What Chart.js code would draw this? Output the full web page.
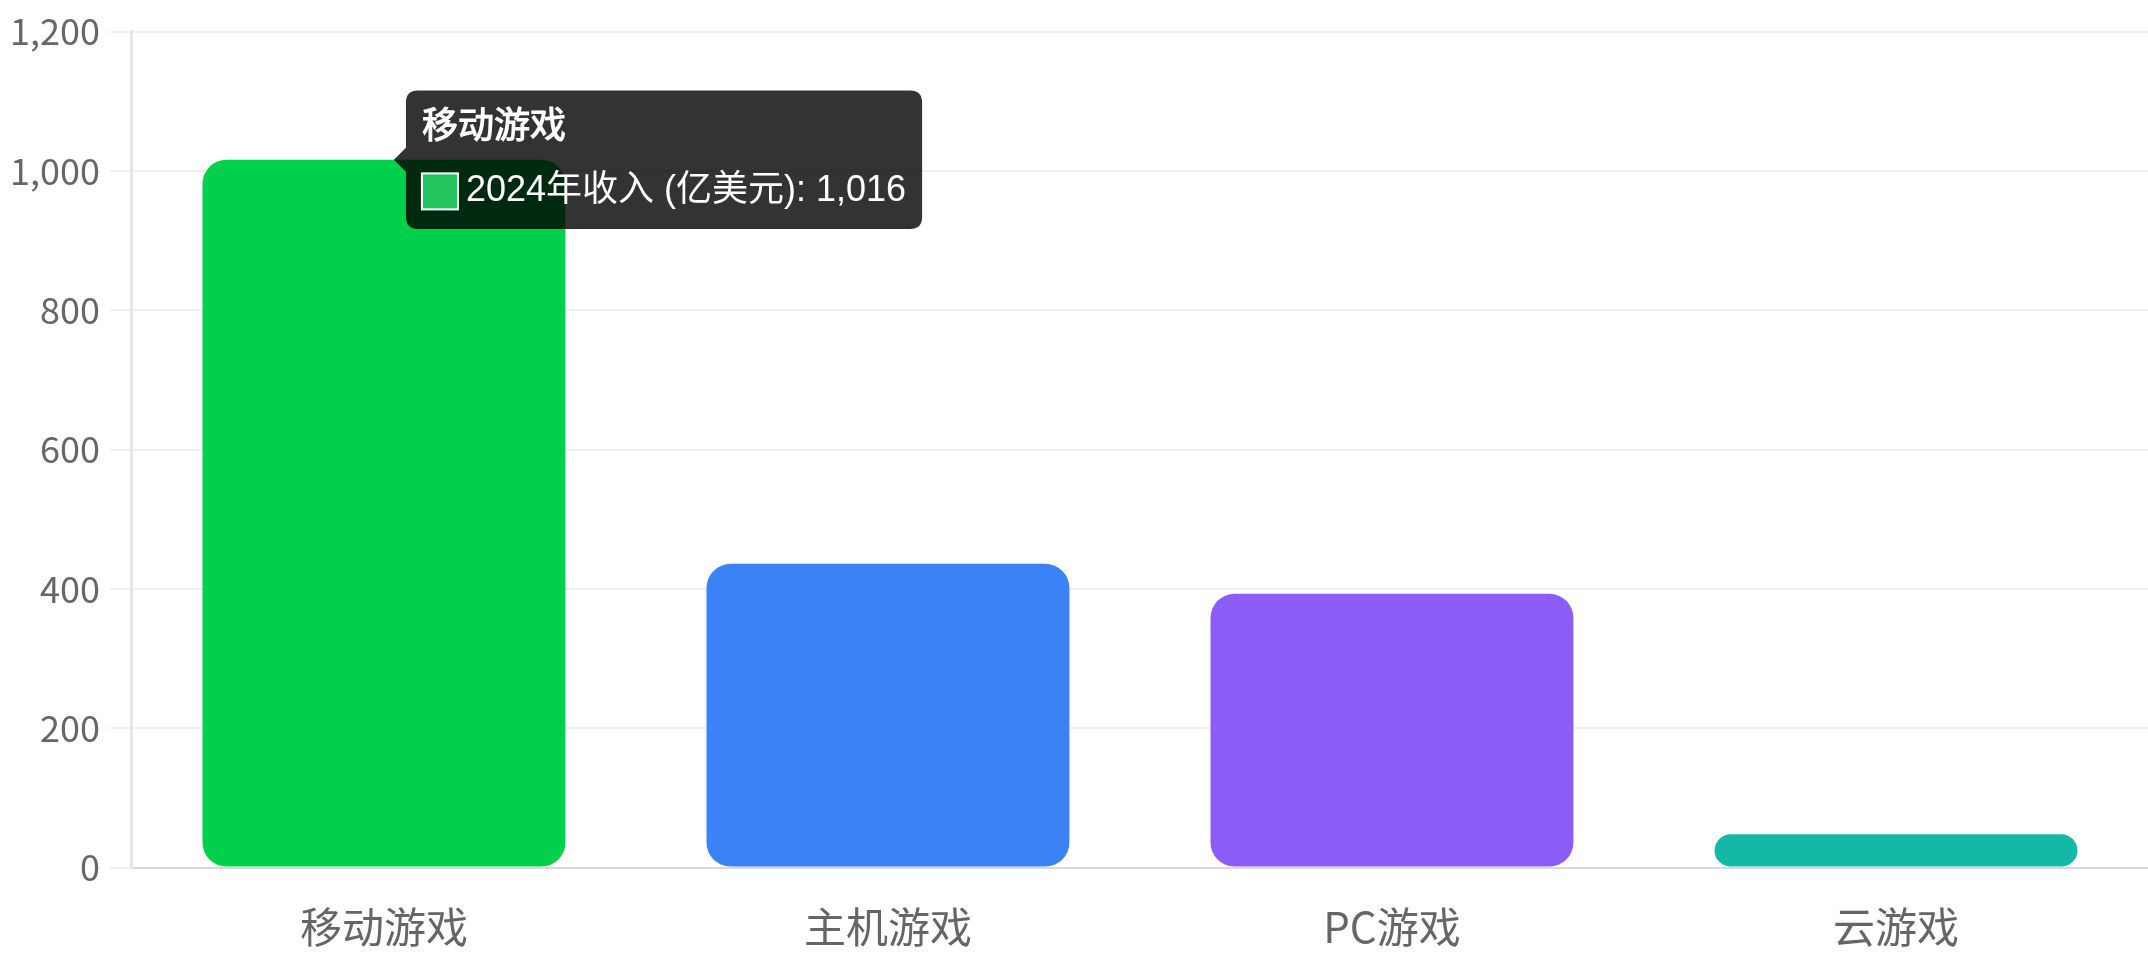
<!DOCTYPE html>
<html lang="zh-CN">
<head>
<meta charset="UTF-8">
<title>2024年游戏收入</title>
<script src="https://cdn.jsdelivr.net/npm/chart.js@4.4.1/dist/chart.umd.min.js"></script>
<style>
  html, body { margin: 0; padding: 0; background: #ffffff; }
  #wrap { position: relative; width: 2148px; height: 960px; }
</style>
</head>
<body>
<div id="wrap"><canvas id="revenueChart"></canvas></div>
<script>
// Dữ liệu biểu đồ
const categories = ["移动游戏", "主机游戏", "PC游戏", "云游戏"];
const revenue2024 = [1016, 436, 393, 48];
const seriesLabel = "2024年收入 (亿美元)";
const barColors = ["#22c55e", "#3b82f6", "#8b5cf6", "#14b8a6"];
const yTicks = [0, 200, 400, 600, 800, 1000, 1200];

const tickFont = "'Noto Sans CJK SC', 'Noto Sans', sans-serif";

const ctx = document.getElementById("revenueChart");
const chart = new Chart(ctx, {
  type: "bar",
  data: {
    labels: categories,
    datasets: [{
      label: seriesLabel,
      data: revenue2024,
      backgroundColor: barColors,
      borderRadius: 24,
      borderSkipped: false
    }]
  },
  options: {
    responsive: true,
    maintainAspectRatio: false,
    animation: false,
    layout: { padding: { top: 8, left: 0, bottom: -26, right: 0 } },
    plugins: {
      legend: { display: false },
      tooltip: {
        backgroundColor: "rgba(0,0,0,0.8)",
        titleFont: { size: 36, weight: "bold" },
        bodyFont: { size: 36 },
        padding: 16,
        titleMarginBottom: 20,
        cornerRadius: 12,
        caretSize: 12,
        caretPadding: 10,
        boxPadding: 6,
        xAlign: "left",
        yAlign: "center",
        callbacks: {
          // ô màu có viền trắng như ảnh gốc
          labelColor: (item) => ({
            borderColor: "#ffffff",
            backgroundColor: barColors[item.dataIndex],
            borderWidth: 2,
            borderRadius: 0
          })
        }
      }
    },
    scales: {
      x: {
        grid: { display: false, drawTicks: false },
        border: { display: true, color: "#d9d9d9", width: 2 },
        ticks: {
          color: "#666",
          padding: 34,
          font: { family: tickFont, size: 42 }
        }
      },
      y: {
        min: yTicks[0],
        max: yTicks[yTicks.length - 1],
        grid: { color: "#f0f0f0", lineWidth: 2, tickLength: 22 },
        border: { display: true, color: "#e5e5e5", width: 3 },
        ticks: {
          stepSize: yTicks[1] - yTicks[0],
          color: "#666",
          padding: 10,
          font: { family: tickFont, size: 36 }
        }
      }
    }
  }
});

// Hiện tooltip cho cột đầu tiên như ảnh gốc
const active = [{ datasetIndex: 0, index: 0 }];
chart.setActiveElements(active);
chart.tooltip.setActiveElements(active, { x: 0, y: 0 });
chart.update();
</script>
</body>
</html>
